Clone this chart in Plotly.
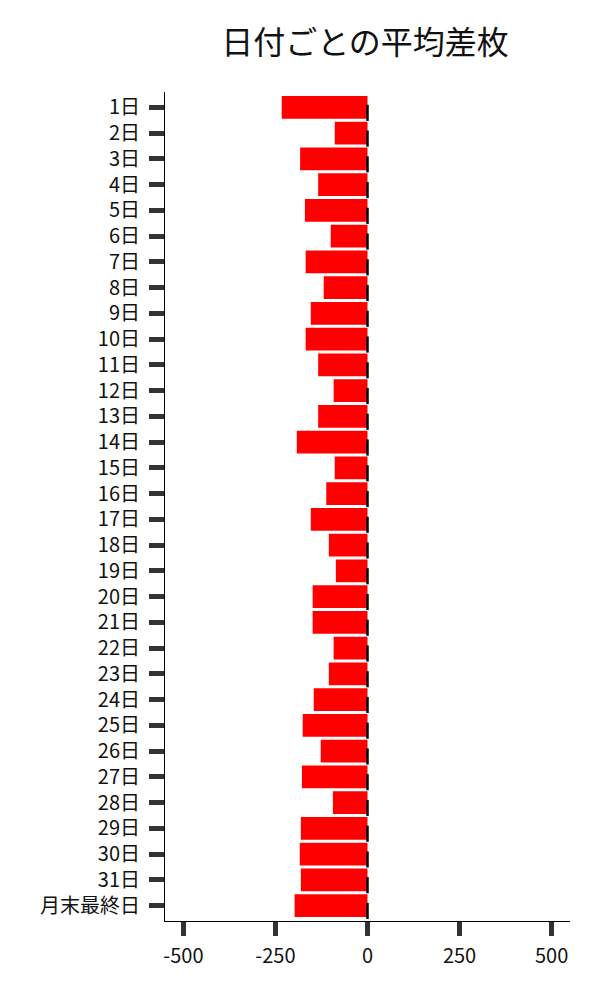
import plotly.graph_objects as go

categories = [f"{d}日" for d in range(1, 32)] + ["月末最終日"]
values = [-233, -89, -183, -134, -170, -100, -168, -119, -154, -168,
          -134, -92, -134, -192, -89, -112, -154, -105, -86, -149,
          -149, -92, -105, -146, -176, -127, -178, -94, -181, -184,
          -181, -198]
zero_marks = [0] * len(categories)
x_tickvals = [-500, -250, 0, 250, 500]

idx = list(range(len(categories)))
FONT = "Noto Sans CJK JP"

fig = go.Figure()
fig.add_trace(go.Bar(
    x=values, y=idx, orientation="h",
    marker=dict(color="#ff0000", line=dict(width=0)),
    width=0.88, hoverinfo="x+y", showlegend=False,
))
fig.add_trace(go.Scatter(
    x=zero_marks, y=[i + 0.21 for i in idx], mode="markers",
    marker=dict(symbol="line-ns", size=11.5,
                line=dict(color="black", width=2.5)),
    showlegend=False, hoverinfo="skip",
))

fig.update_layout(
    width=600, height=1000,
    margin=dict(l=157, r=38, t=84, b=87),
    paper_bgcolor="white", plot_bgcolor="white",
    font=dict(family=FONT, size=20, color="#111"),
    title=dict(text="日付ごとの平均差枚", x=0.595, xanchor="center",
               y=0.965, yanchor="middle",
               font=dict(family=FONT, size=32, color="#111")),
    xaxis=dict(range=[-550, 550], tickvals=x_tickvals,
               ticktext=[str(v) for v in x_tickvals],
               showgrid=False, zeroline=False,
               showline=True, linecolor="black", linewidth=1,
               ticks="outside", ticklen=14, tickwidth=5, tickcolor="#333",
               ticklabelstandoff=3,
               tickfont=dict(size=20, color="#111")),
    yaxis=dict(range=[31.6, -0.6], tickvals=idx, ticktext=categories,
               showgrid=False, zeroline=False,
               showline=True, linecolor="black", linewidth=1,
               ticks="outside", ticklen=15, tickwidth=5, tickcolor="#333",
               ticklabelstandoff=5,
               tickfont=dict(size=20, color="#111")),
)

fig.write_html("out.html")
